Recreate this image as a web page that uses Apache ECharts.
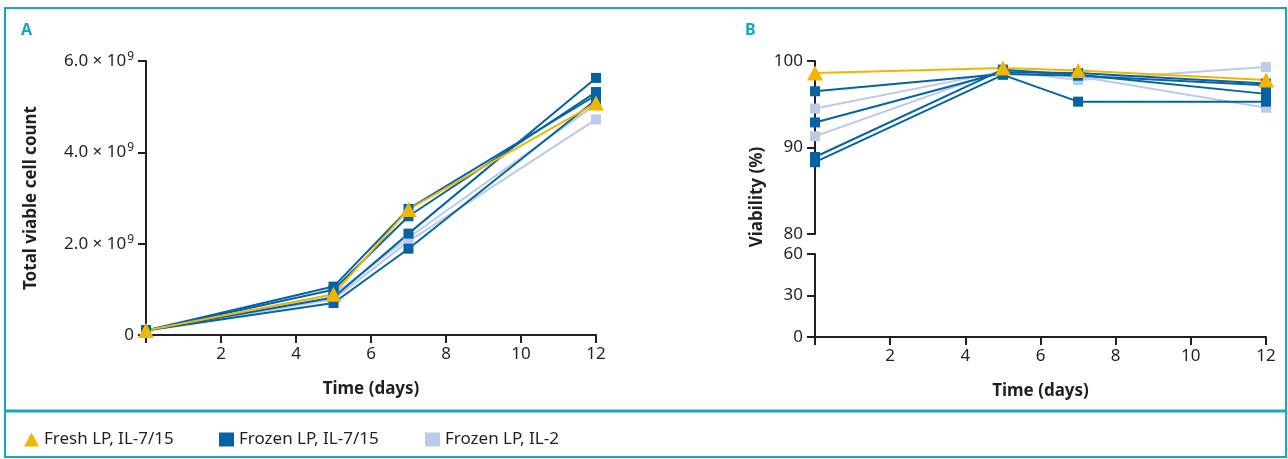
<!DOCTYPE html>
<html>
<head>
<meta charset="utf-8">
<script src="https://cdn.jsdelivr.net/npm/echarts@6/dist/echarts.min.js"></script>
<style>
  html, body { margin: 0; padding: 0; background: #fff; }
  #chart { width: 1288px; height: 459px; }
</style>
</head>
<body>
<div id="chart"></div>
<script>
    // time points (days)
    var days = [0, 5, 7, 12];

    // panel A: total viable cell count (x 10^9)
    var countFresh = [0.1, 0.89, 2.75, 5.08];
    var countFrozen715 = [
        [0.1, 1.06, 2.76, 5.25],
        [0.1, 0.99, 2.60, 5.32],
        [0.1, 0.82, 2.22, 5.63],
        [0.1, 0.70, 1.89, 5.15]
    ];
    var countFrozenIL2 = [
        [0.1, 0.78, 2.05, 4.72],
        [0.1, 0.88, 2.13, 5.05]
    ];

    // panel B: viability (%)
    var viabFresh = [98.6, 99.2, 98.9, 97.8];
    var viabFrozen715 = [
        [96.5, 98.5, 98.3, 97.2],
        [92.9, 98.7, 98.6, 97.4],
        [88.9, 99.0, 98.4, 96.2],
        [88.3, 98.4, 95.3, 95.3]
    ];
    var viabFrozenIL2 = [
        [94.5, 98.8, 97.8, 99.3],
        [91.3, 99.0, 98.2, 94.6]
    ];

    var xTicks = [2, 4, 6, 8, 10, 12];
    var viabTopTicks = [80, 90, 100];
    var viabBottomTicks = [0, 30, 60];

    var NAME_FRESH = 'Fresh LP, IL-7/15';
    var NAME_FROZEN = 'Frozen LP, IL-7/15';
    var NAME_IL2 = 'Frozen LP, IL-2';

    var TEAL = '#17a5c6';
    var YELLOW = '#f3b600';
    var DARK = '#0563a3';
    var LIGHT = '#bccbe7';
    var INK = '#231f20';
    var FONT = 'Noto Sans';

    function pairs(vals, scale) {
        return vals.map(function (v, i) { return [days[i], v * (scale || 1)]; });
    }

    function makeLine(name, vals, color, xi, yi, scale) {
        var fresh = name === NAME_FRESH;
        return {
            name: name,
            type: 'line',
            xAxisIndex: xi,
            yAxisIndex: yi,
            data: pairs(vals, scale),
            symbol: fresh ? 'triangle' : 'rect',
            symbolSize: fresh ? [16, 15] : 10,
            showAllSymbol: true,
            lineStyle: { color: color, width: 2 },
            itemStyle: { color: color },
            emphasis: { disabled: true },
            animation: false
        };
    }

    var axisLine = { show: true, lineStyle: { color: INK, width: 2 } };
    var axisTick = { show: true, inside: false, length: 8, lineStyle: { color: INK, width: 2 } };
    var labelBase = { color: INK, fontFamily: FONT, fontSize: 17 };

    function xAxisCfg(grid, show) {
        return {
            type: 'value', gridIndex: grid, min: 0, max: 12, interval: 2,
            show: show,
            axisLine: axisLine, axisTick: axisTick, splitLine: { show: false },
            axisLabel: Object.assign({}, labelBase, {
                margin: 11,
                formatter: function (v) { return xTicks.indexOf(v) >= 0 ? String(v) : ''; }
            }),
            name: show ? 'Time (days)' : '',
            nameLocation: 'middle', nameGap: 46,
            nameTextStyle: { color: INK, fontFamily: FONT, fontSize: 17, fontWeight: 'bold' }
        };
    }

    var series = [];
    countFrozenIL2.forEach(function (s) { series.push(makeLine(NAME_IL2, s, LIGHT, 0, 0, 1e9)); });
    countFrozen715.forEach(function (s) { series.push(makeLine(NAME_FROZEN, s, DARK, 0, 0, 1e9)); });
    series.push(makeLine(NAME_FRESH, countFresh, YELLOW, 0, 0, 1e9));
    viabFrozenIL2.forEach(function (s) { series.push(makeLine(NAME_IL2, s, LIGHT, 1, 1)); });
    viabFrozen715.forEach(function (s) { series.push(makeLine(NAME_FROZEN, s, DARK, 1, 1)); });
    series.push(makeLine(NAME_FRESH, viabFresh, YELLOW, 1, 1));

    var legendText = { color: INK, fontFamily: FONT, fontSize: 17 };
    function legendItem(name, left, icon) {
        return {
            data: [{ name: name, icon: icon }],
            left: left, top: 426,
            itemWidth: 15, itemHeight: 14, itemGap: 8,
            selectedMode: false,
            textStyle: legendText
        };
    }

    var chart = echarts.init(document.getElementById('chart'));
    chart.setOption({
        backgroundColor: '#fff',
        animation: false,
        legend: [
            legendItem(NAME_FRESH, 19, 'triangle'),
            legendItem(NAME_FROZEN, 214, 'rect'),
            legendItem(NAME_IL2, 420, 'rect')
        ],
        grid: [
            { left: 146, top: 61, width: 450, height: 274 },
            { left: 815, top: 61, width: 451, height: 173 },
            { left: 815, top: 254, width: 451, height: 83 }
        ],
        xAxis: [xAxisCfg(0, true), xAxisCfg(1, false), xAxisCfg(2, true)],
        yAxis: [
            {
                type: 'value', gridIndex: 0, min: 0, max: 6e9, interval: 2e9,
                axisLine: axisLine, axisTick: axisTick, splitLine: { show: false },
                axisLabel: Object.assign({}, labelBase, {
                    margin: 12,
                    formatter: function (v) {
                        if (v === 0) return '0';
                        return '{a|' + (v / 1e9).toFixed(1) + ' × 10}{s|9}';
                    },
                    rich: {
                        a: { color: INK, fontFamily: FONT, fontSize: 17 },
                        s: { color: INK, fontFamily: FONT, fontSize: 12, padding: [0, 0, 9, 1] }
                    }
                }),
                name: 'Total viable cell count',
                nameLocation: 'middle', nameGap: 106,
                nameTextStyle: { color: INK, fontFamily: FONT, fontSize: 17, fontWeight: 'bold' }
            },
            {
                type: 'value', gridIndex: 1, min: 80, max: 100, interval: 10,
                axisLine: axisLine, axisTick: axisTick, splitLine: { show: false },
                axisLabel: Object.assign({}, labelBase, {
                    margin: 12,
                    formatter: function (v) { return viabTopTicks.indexOf(v) >= 0 ? String(v) : ''; }
                })
            },
            {
                type: 'value', gridIndex: 2, min: 0, max: 60, interval: 30,
                axisLine: axisLine, axisTick: axisTick, splitLine: { show: false },
                axisLabel: Object.assign({}, labelBase, {
                    margin: 12,
                    formatter: function (v) { return viabBottomTicks.indexOf(v) >= 0 ? String(v) : ''; }
                })
            }
        ],
        series: series,
        graphic: [
            { type: 'rect', shape: { x: 5, y: 8, width: 1281, height: 449 },
              style: { fill: 'none', stroke: TEAL, lineWidth: 2 }, z: 100 },
            { type: 'line', shape: { x1: 5, y1: 411, x2: 1286, y2: 411 },
              style: { stroke: TEAL, lineWidth: 3 }, z: 100 },
            { type: 'text', left: 21, top: 22,
              style: { text: 'A', fill: TEAL, font: 'bold 16px "Noto Sans"' } },
            { type: 'text', left: 745, top: 22,
              style: { text: 'B', fill: TEAL, font: 'bold 16px "Noto Sans"' } },
            { type: 'text', x: 757, y: 197, rotation: Math.PI / 2,
              style: { text: 'Viability (%)', fill: INK, font: 'bold 17px "Noto Sans"',
                       align: 'center', verticalAlign: 'middle' } }
        ]
    });
</script>
</body>
</html>
